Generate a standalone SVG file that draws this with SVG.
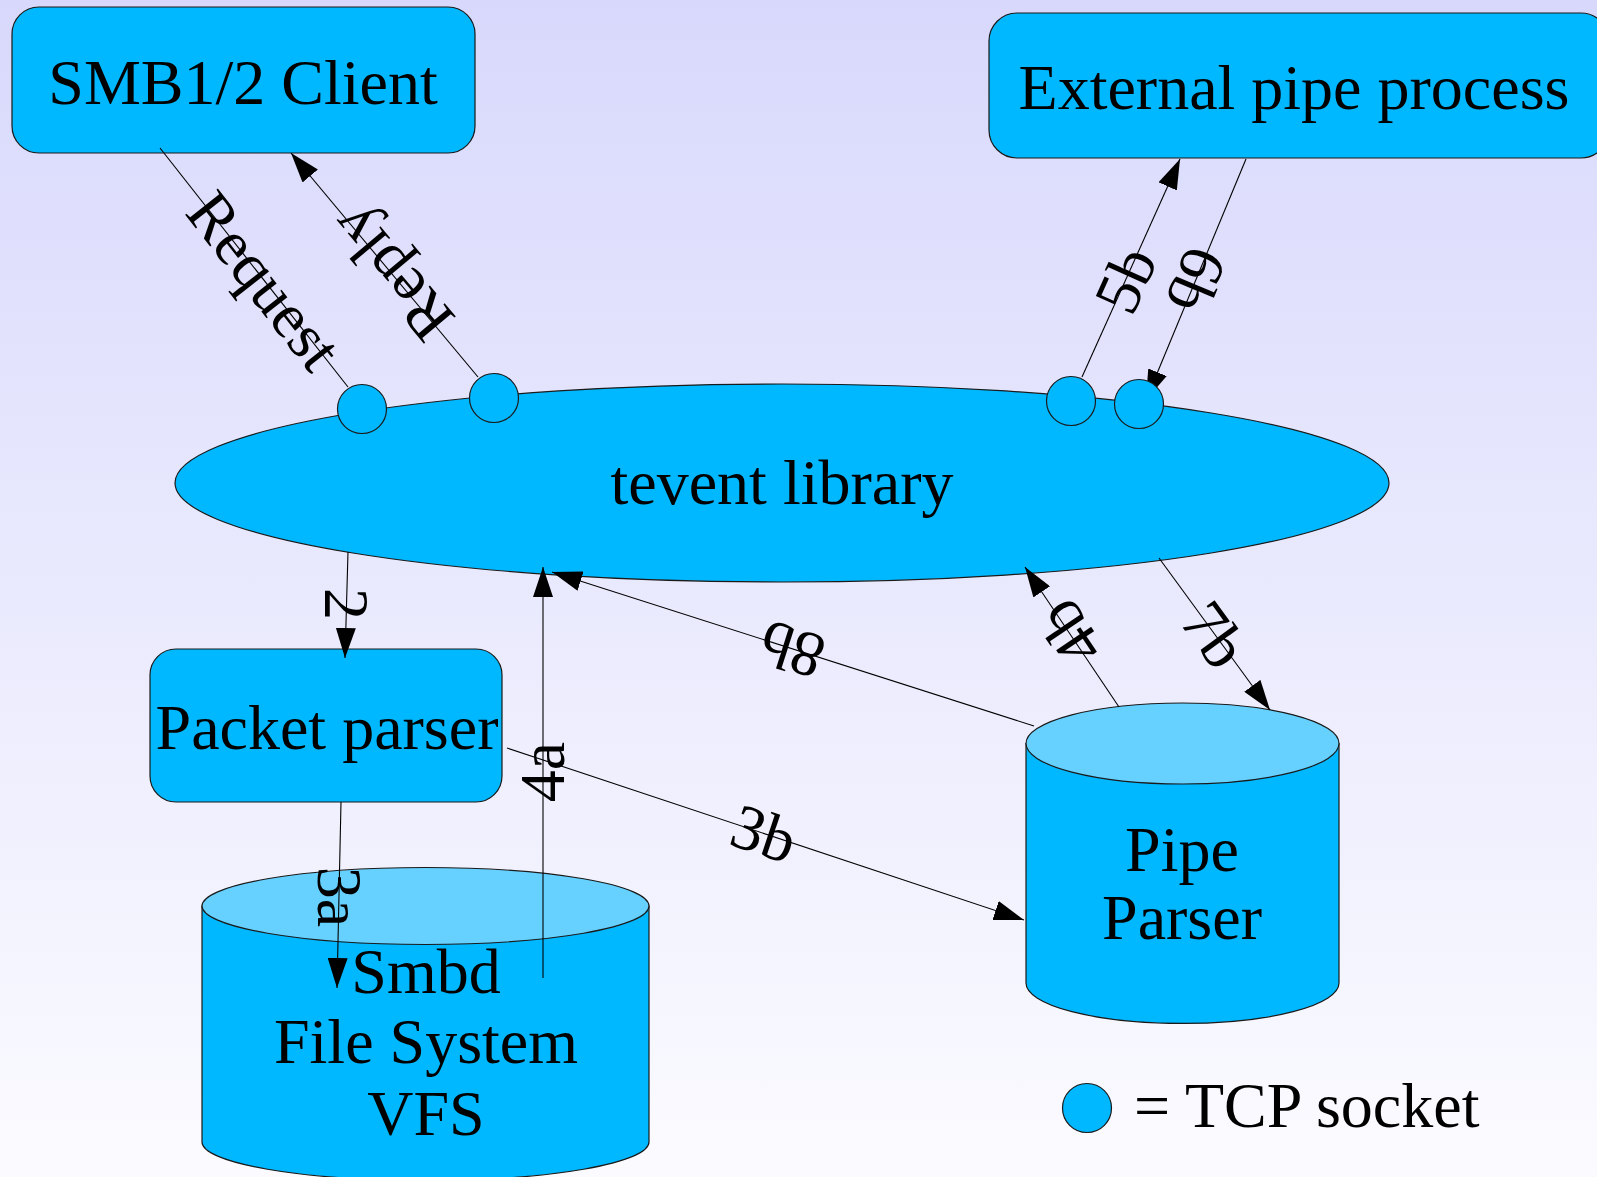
<svg xmlns="http://www.w3.org/2000/svg" width="1597" height="1177" viewBox="0 0 1597 1177">
<defs>
<linearGradient id="bg" x1="0" y1="0" x2="0" y2="1">
<stop offset="0" stop-color="#d8d8fc"/>
<stop offset="1" stop-color="#fbfbff"/>
</linearGradient>
<marker id="arr" markerWidth="30" markerHeight="20" refX="30" refY="10" orient="auto" markerUnits="userSpaceOnUse">
<path d="M0,0 L30,10 L0,20 z" fill="#000"/>
</marker>
</defs>
<style>
.node{fill:#00b8ff;stroke:#1a1a1a;stroke-width:1.2}
.top{fill:#66d1ff;stroke:#1a1a1a;stroke-width:1.2}
.t{font-family:"Liberation Serif","Times New Roman",serif;font-size:64px;fill:#000;text-anchor:middle}
.lab{font-family:"Liberation Serif","Times New Roman",serif;font-size:64px;fill:#000;text-anchor:middle}
.c{stroke:#000;stroke-width:1.1;fill:none}
.a{marker-end:url(#arr)}
</style>
<rect x="0" y="0" width="1597" height="1177" fill="url(#bg)"/>

<g id="smb-client">
<rect class="node" x="12" y="7" width="463" height="146" rx="27"/>
<text class="t" x="243" y="104">SMB1/2 Client</text>
</g>

<g id="external-pipe">
<rect class="node" x="989" y="13" width="620" height="145" rx="28"/>
<text class="t" x="1294" y="109">External pipe process</text>
</g>

<g id="tevent">
<ellipse class="node" cx="782" cy="483" rx="607" ry="99"/>
<text class="t" x="782" y="504">tevent library</text>
</g>

<g id="packet-parser">
<rect class="node" x="150" y="649" width="352" height="153" rx="26"/>
<text class="t" x="327" y="749">Packet parser</text>
</g>

<g id="smbd-vfs">
<path class="node" d="M202,906 L202,1142 A223.5,38.5 0 0 0 649,1142 L649,906 Z"/>
<ellipse class="top" cx="425.5" cy="906" rx="223.5" ry="38.5"/>
<text class="t" x="426" y="993">Smbd</text>
<text class="t" x="426" y="1063">File System</text>
<text class="t" x="426" y="1135">VFS</text>
</g>

<g id="pipe-parser">
<path class="node" d="M1026,743.5 L1026,983 A156.5,40.5 0 0 0 1339,983 L1339,743.5 Z"/>
<ellipse class="top" cx="1182.5" cy="743.5" rx="156.5" ry="40.5"/>
<text class="t" x="1182" y="871">Pipe</text>
<text class="t" x="1182" y="939">Parser</text>
</g>

<g id="connectors">
<line class="c" x1="160" y1="148" x2="348" y2="387"/>
<line class="c a" x1="478" y1="377" x2="291" y2="153"/>
<line class="c a" x1="1082" y1="377" x2="1180" y2="159"/>
<line class="c a" x1="1246" y1="159" x2="1146" y2="400"/>
<line class="c a" x1="348" y1="552" x2="345" y2="658"/>
<line class="c a" x1="341" y1="802" x2="337" y2="988"/>
<line class="c a" x1="543" y1="978" x2="543" y2="567"/>
<line class="c a" x1="1034" y1="726" x2="552" y2="572"/>
<line class="c a" x1="507" y1="748" x2="1024" y2="920"/>
<line class="c a" x1="1119" y1="707" x2="1025" y2="567"/>
<line class="c a" x1="1159" y1="558" x2="1270" y2="710"/>

<text class="lab" transform="translate(264,281) rotate(51.8)" dy="21">Request</text>
<text class="lab" transform="translate(392,273) rotate(-129.9)" dy="21">Reply</text>
<text class="lab" transform="translate(1126,280) rotate(-65.8)" dy="21">5b</text>
<text class="lab" transform="translate(1196,280) rotate(112.5)" dy="21">6b</text>
<text class="lab" transform="translate(346,604) rotate(90)" dy="21">2</text>
<text class="lab" transform="translate(339,897) rotate(90)" dy="21">3a</text>
<text class="lab" transform="translate(543,772) rotate(-90)" dy="21">4a</text>
<text class="lab" transform="translate(792,649) rotate(-162.3)" dy="21">8b</text>
<text class="lab" transform="translate(764,834) rotate(18.4)" dy="21">3b</text>
<text class="lab" transform="translate(1070,633) rotate(-123.9)" dy="21">4b</text>
<text class="lab" transform="translate(1214,635) rotate(53.9)" dy="21">7b</text>
</g>

<g id="sockets">
<circle class="node" cx="362" cy="409" r="24.5"/>
<circle class="node" cx="494" cy="398" r="24.5"/>
<circle class="node" cx="1071" cy="401" r="24.5"/>
<circle class="node" cx="1139" cy="404" r="24.5"/>
</g>

<g id="legend">
<circle class="node" cx="1087" cy="1108" r="24.5"/>
<text class="t" x="1134" y="1127" style="text-anchor:start">= TCP socket</text>
</g>
</svg>
